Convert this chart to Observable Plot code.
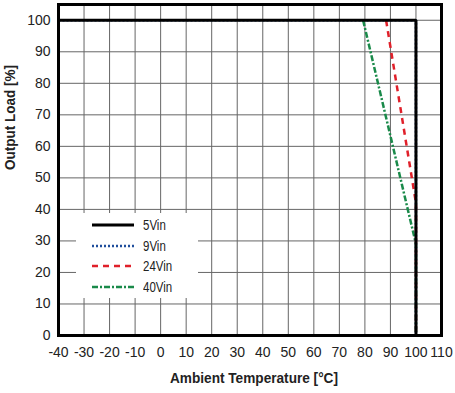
<!DOCTYPE html>
<html>
<head>
<meta charset="utf-8">
<script src="https://cdn.jsdelivr.net/npm/d3@7"></script>
<script src="https://cdn.jsdelivr.net/npm/@observablehq/plot@0.6"></script>
<style>
  html, body { margin: 0; padding: 0; background: #fff; }
  #wrap { position: relative; width: 455px; height: 393px; font-family: "Liberation Sans", Arial, sans-serif; }
  #legend { position: absolute; left: 76px; top: 213px; width: 122px; height: 85px; background: #fff; }
  #legend .row { position: absolute; left: 0; height: 20px; display: flex; align-items: center; }
  #legend svg { margin-left: 16px; flex: none; }
  #legend span { margin-left: 9px; font-size: 14px; color: #222; display: inline-block; transform: scaleX(0.82); transform-origin: left center; }
</style>
</head>
<body>
<div id="wrap"></div>
<script>
const xTicks = [-40,-30,-20,-10,0,10,20,30,40,50,60,70,80,90,100,110];
const yTicks = [0,10,20,30,40,50,60,70,80,90,100];
const seriesNames = ["5Vin","9Vin","24Vin","40Vin"];
const seriesColors = ["#000000","#1f4e9c","#e0202a","#1a8a4a"];
const seriesDash = ["none","2,2","6,5","6,2,2,2"];
const seriesWidth = [3,2.5,2.5,2.5];
const temp5 = [-40,100,100];   const load5 = [100,100,0];
const temp9 = [-40,100,100];   const load9 = [100,100,0];
const temp24 = [88.3,100,100]; const load24 = [100,42,0];
const temp40 = [79.3,100,100]; const load40 = [100,29,0];

const build = (name, t, l) => t.map((x,i)=>({series:name, temp:x, load:l[i]}));
const data = [
  build("9Vin", temp9, load9),
  build("24Vin", temp24, load24),
  build("40Vin", temp40, load40),
  build("5Vin", temp5, load5)
];
const fontFam = '"Liberation Sans", Arial, sans-serif';

const lineMark = (d) => {
  const k = seriesNames.indexOf(d[0].series);
  return Plot.line(d, {x:"temp", y:"load", stroke: seriesColors[k], strokeWidth: seriesWidth[k], strokeDasharray: seriesDash[k], strokeLinejoin:"miter", strokeLinecap: "butt"});
};

const chart = Plot.plot({
  width: 455, height: 393,
  marginLeft: 58, marginRight: 14, marginTop: 4, marginBottom: 58,
  style: {fontFamily: fontFam, fontSize: "14px", color: "#222", background: "#fff"},
  x: {domain: [-40,110]},
  y: {domain: [0,105]},
  marks: [
    Plot.gridX(xTicks, {stroke:"#666", strokeOpacity: 1, strokeWidth: 1}),
    Plot.gridY(yTicks, {stroke:"#666", strokeOpacity: 1, strokeWidth: 1}),
    Plot.axisX(xTicks, {tickSize: 0, tickPadding: 12, label: null, fontSize: 14, tickFormat: d => String(d), fill: "#222"}),
    Plot.axisY(yTicks, {tickSize: 0, tickPadding: 8, label: null, fontSize: 14, tickFormat: d => String(d), fill: "#222"}),
    ...data.map(lineMark),
    Plot.frame({stroke:"#000", strokeWidth: 3}),
    Plot.text(["Ambient Temperature [°C]"], {frameAnchor:"bottom", dx: 4, dy: 47, text: d=>d, fontWeight:"bold", fontSize: 14, fill:"#222"}),
    Plot.text(["Output Load [%]"], {frameAnchor:"left", dx: -48, dy: 0, rotate: -90, text: d=>d, fontWeight:"bold", fontSize: 14, fill:"#222"})
  ]
});

// condense title and tick text widths to mimic the narrow original font
d3.select(chart).selectAll("text").each(function() {
  const t = this.textContent;
  if (t === "Ambient Temperature [°C]") { this.setAttribute("textLength", 168); this.setAttribute("lengthAdjust", "spacingAndGlyphs"); }
  if (t === "Output Load [%]") { this.setAttribute("textLength", 105); this.setAttribute("lengthAdjust", "spacingAndGlyphs"); }
});

const wrap = document.getElementById("wrap");
wrap.appendChild(chart);

const legend = document.createElement("div");
legend.id = "legend";
seriesNames.forEach((name, i) => {
  const row = document.createElement("div");
  row.className = "row";
  row.style.top = (2 + i*20.5) + "px";
  const dash = seriesDash[i] === "none" ? "" : `stroke-dasharray="${seriesDash[i]}"`;
  row.innerHTML = `<svg width="42" height="8"><line x1="0" y1="4" x2="42" y2="4" stroke="${seriesColors[i]}" stroke-width="${i===0?3:2.5}" ${dash}/></svg><span>${name}</span>`;
  legend.appendChild(row);
});
wrap.appendChild(legend);
</script>
</body>
</html>
